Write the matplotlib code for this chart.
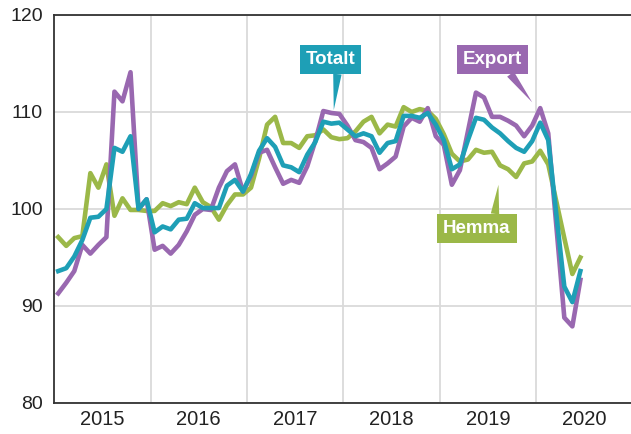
import numpy as np
import matplotlib.pyplot as plt

plt.rcParams['font.family'] = ['Liberation Sans', 'DejaVu Sans']

# monthly index values, Jan 2015 - Jun 2020
years = ['2015', '2016', '2017', '2018', '2019', '2020']

export = [91.3, 92.4, 93.6, 96.3, 95.4, 96.3, 97.1, 112.1, 111.1, 114.1, 100.0, 101.0,
          95.8, 96.2, 95.4, 96.3, 97.7, 99.4, 100.0, 99.9, 102.2, 103.9, 104.6, 101.8,
          103.4, 105.8, 106.1, 104.3, 102.6, 103.0, 102.7, 104.4, 107.0, 110.1, 109.9, 109.8,
          108.6, 107.1, 106.9, 106.3, 104.1, 104.7, 105.4, 108.5, 109.4, 109.0, 110.4, 107.5,
          106.6, 102.5, 104.0, 108.0, 112.0, 111.5, 109.5, 109.5, 109.1, 108.6, 107.5, 108.6,
          110.4, 107.8, 98.3, 88.8, 87.9, 92.7]

totalt = [93.6, 93.9, 95.1, 96.8, 99.1, 99.2, 100.0, 106.3, 105.9, 107.5, 100.0, 101.0,
          97.6, 98.2, 97.9, 98.9, 99.0, 100.6, 100.1, 100.1, 100.1, 102.4, 103.0, 101.8,
          103.6, 106.0, 107.3, 106.4, 104.5, 104.3, 103.8, 105.6, 106.9, 109.0, 108.8, 108.9,
          108.2, 107.5, 107.8, 107.5, 105.8, 106.8, 107.0, 109.6, 109.6, 109.4, 109.9, 108.7,
          107.1, 104.1, 104.6, 107.1, 109.4, 109.2, 108.4, 107.8, 107.0, 106.3, 105.9, 107.0,
          108.9, 107.1, 99.5, 92.0, 90.4, 93.6]

hemma = [97.1, 96.2, 97.0, 97.2, 103.7, 102.2, 104.6, 99.3, 101.1, 99.9, 99.9, 99.8,
         99.8, 100.6, 100.3, 100.7, 100.5, 102.2, 100.7, 100.2, 98.9, 100.4, 101.5, 101.5,
         102.2, 105.2, 108.7, 109.5, 106.8, 106.8, 106.3, 107.5, 107.6, 108.2, 107.4, 107.2,
         107.3, 108.0, 109.0, 109.5, 107.8, 108.7, 108.5, 110.5, 110.0, 110.3, 110.1, 109.3,
         107.7, 105.7, 104.9, 105.1, 106.1, 105.8, 105.9, 104.5, 104.1, 103.3, 104.7, 104.9,
         106.0, 104.6, 100.8, 97.0, 93.3, 95.0]

c_export = '#9968b0'
c_totalt = '#1e9fb6'
c_hemma = '#9bb848'

months = np.arange(len(export)) + 0.5

fig = plt.figure(figsize=(6.31, 4.34), dpi=100)
ax = fig.add_axes([54.2 / 631, 31 / 434, 1 - 54.2 / 631, 388 / 434])

ax.plot(months, hemma, color=c_hemma, lw=3.3, zorder=3)
ax.plot(months, export, color=c_export, lw=3.3, zorder=4)
ax.plot(months, totalt, color=c_totalt, lw=3.3, zorder=5)

ax.set_xlim(0, (631 - 54.2) / (96.4 / 12))
ax.set_ylim(80, 120)
ax.set_yticks([80, 90, 100, 110, 120])
ax.set_xticks(np.arange(12, 12 * len(years), 12))
ax.set_xticklabels([])
ax.grid(True, color='#dadada', lw=1.3, zorder=0)
ax.tick_params(length=0, labelsize=14, colors='#222222', pad=8)
for i, yr in enumerate(years):
    ax.text(12 * i + 6, 79.3, yr, ha='center', va='top', fontsize=14.5, color='#222222')

for s in ['left', 'bottom', 'top']:
    ax.spines[s].set_color('#333333')
    ax.spines[s].set_linewidth(1.3)
ax.spines['right'].set_visible(False)

labels = [('Totalt', c_totalt, (34.4, 115.4), (34.8, 110.2), (0.65, 0.0)),
          ('Export', c_export, (54.6, 115.4), (59.5, 111.0), (0.72, 0.0)),
          ('Hemma', c_hemma, (52.6, 98.0), (55.3, 102.5), (0.76, 1.0))]
for txt, col, pos, tip, rel in labels:
    ax.annotate(txt, xy=tip, xytext=pos, ha='center', va='center',
                fontsize=13.5, fontweight='bold', color='white', zorder=6,
                bbox=dict(boxstyle='square,pad=0.32', fc=col, ec='none'),
                arrowprops=dict(arrowstyle='wedge,tail_width=0.45,shrink_factor=0.5',
                                fc=col, ec='none', relpos=rel, shrinkA=0, shrinkB=0))

fig.savefig('out.png', dpi=100)
